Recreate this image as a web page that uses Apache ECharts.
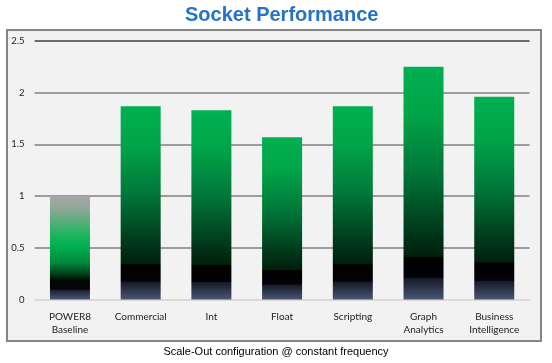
<!DOCTYPE html>
<html><head><meta charset="utf-8">
<script src="https://cdn.jsdelivr.net/npm/echarts@6/dist/echarts.min.js"></script>
<style>html,body{margin:0;padding:0;background:#fff}#c{width:552px;height:363px}</style>
</head><body><div id="c"></div>
<script>
var categories = ['POWER8\nBaseline','Commercial','Int','Float','Scripting','Graph\nAnalytics','Business\nIntelligence'];
var values = [1.0, 1.87, 1.83, 1.57, 1.87, 2.25, 1.96];
var yTicks = [0, 0.5, 1, 1.5, 2, 2.5];
var titleText = 'Socket Performance';
var subtitleText = 'Scale-Out configuration @ constant frequency';

function grad(stops){ return new echarts.graphic.LinearGradient(0,0,0,1,stops); }
var greenFill = grad([
  {offset:0, color:'#00b050'},
  {offset:0.2, color:'#00a548'},
  {offset:0.45, color:'#00783a'},
  {offset:0.62, color:'#004e24'},
  {offset:0.74, color:'#003016'},
  {offset:0.815, color:'#001f0a'},
  {offset:0.82, color:'#000000'},
  {offset:0.905, color:'#030308'},
  {offset:0.91, color:'#141a28'},
  {offset:1, color:'#4b5673'}
]);
var baseFill = grad([
  {offset:0, color:'#a7a7a7'},
  {offset:0.12, color:'#8fa797'},
  {offset:0.35, color:'#27b462'},
  {offset:0.48, color:'#00b050'},
  {offset:0.64, color:'#008a3c'},
  {offset:0.76, color:'#003a16'},
  {offset:0.82, color:'#020805'},
  {offset:0.9, color:'#05050a'},
  {offset:0.91, color:'#1a2030'},
  {offset:1, color:'#4c5774'}
]);

var chart = echarts.init(document.getElementById('c'), null, {renderer:'canvas'});
chart.setOption({
  animation:false,
  backgroundColor:'#ffffff',
  graphic:[
    {type:'rect', z:-10, shape:{x:7,y:30,width:534,height:311}, style:{fill:'#f2f2f2', stroke:'#858585', lineWidth:2}},
    {type:'text', left:185, top:5, style:{text:titleText, fill:'#2672c8', font:'bold 20px "Liberation Sans", Arial, sans-serif'}},
    {type:'text', left:'center', top:346, style:{text:subtitleText, fill:'#000', font:'11px "Liberation Sans", Arial, sans-serif'}}
  ],
  grid:{left:34.6, right:22.4, top:41, bottom:63.5, containLabel:false},
  xAxis:{type:'category', data:categories,
    axisLine:{show:true, lineStyle:{color:'#d9d9d9', width:1.5}},
    axisTick:{show:false},
    axisLabel:{color:'#222', fontFamily:'Lato, sans-serif', fontSize:10, margin:11, lineHeight:13, interval:0}
  },
  yAxis:{type:'value', min:0, max:2.5, interval:0.5,
    axisLine:{show:false}, axisTick:{show:false},
    axisLabel:{color:'#222', fontFamily:'Lato, sans-serif', fontSize:9.5, margin:10,
      formatter:function(v){ return String(v); }},
    splitLine:{lineStyle:{color:['#d9d9d9','#7f7f7f','#7f7f7f','#7f7f7f','#7f7f7f','#3f3f3f'], width:1.5}}
  },
  series:[{type:'bar', barWidth:40,
    data: values.map(function(v,i){ return {value:v, itemStyle:{color: i===0 ? baseFill : greenFill}}; })
  }]
});
</script></body></html>
